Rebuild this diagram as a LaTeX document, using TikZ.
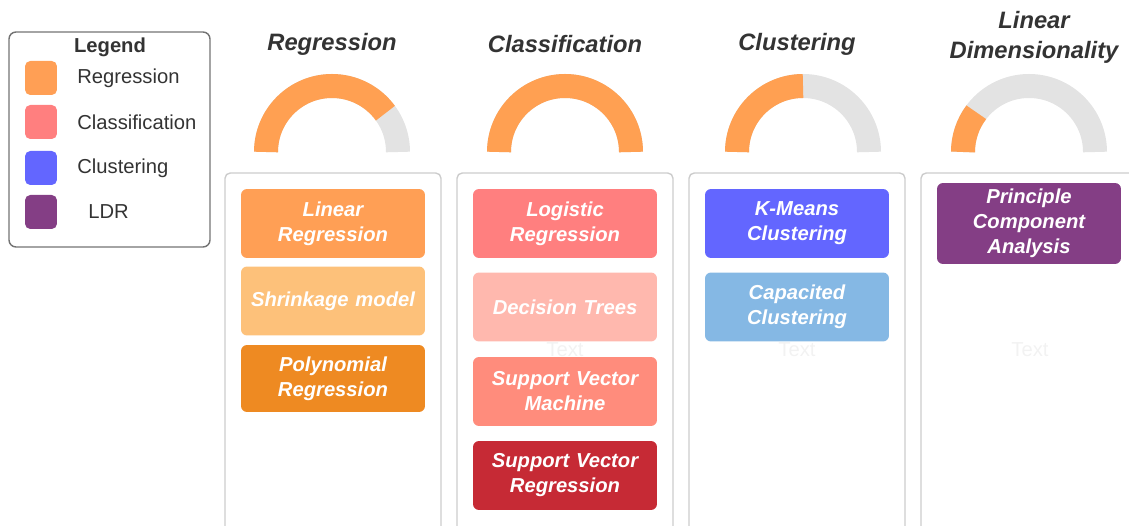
\documentclass[tikz,border=0pt]{standalone}
\usepackage{fontspec}
\setmainfont{Liberation Sans}

\definecolor{ink}{HTML}{333333}
\definecolor{gauge}{HTML}{FFA052}
\definecolor{track}{HTML}{E3E3E3}
\definecolor{lin}{HTML}{FF9F55}
\definecolor{shr}{HTML}{FDC17A}
\definecolor{pol}{HTML}{EE8A22}
\definecolor{lgr}{HTML}{FF7F7F}
\definecolor{dtr}{HTML}{FFB8AE}
\definecolor{svm}{HTML}{FF8C7C}
\definecolor{svr}{HTML}{C62A35}
\definecolor{kmc}{HTML}{6366FF}
\definecolor{cap}{HTML}{85B8E4}
\definecolor{pca}{HTML}{843E85}

\tikzset{
  every node/.style={align=center},
  box/.style={rounded corners=3.4pt, minimum width=3.68cm, minimum height=1.38cm,
    text width=3.6cm, inner sep=0pt, text=white,
    font=\fontsize{11.5}{14.2}\selectfont\bfseries\itshape},
  swatch/.style={rounded corners=3pt, minimum width=0.64cm, minimum height=0.68cm, inner sep=0pt},
  head/.style={text=ink, font=\fontsize{13.5}{17}\selectfont\bfseries\itshape},
  key/.style={anchor=west, text=ink, inner sep=0pt, font=\fontsize{11.5}{14}\selectfont},
  ghost/.style={text=black!5, font=\fontsize{11.5}{14}\selectfont},
  column/.style={draw=black!20, line width=0.8pt, rounded corners=3pt}
}

\begin{document}
\begin{tikzpicture}[x=0.02cm,y=0.02cm]
      \useasboundingbox (0,0) rectangle (1129,-526);
      \clip (0,0) rectangle (1129,-526);

      % legend
      \draw [draw=black!55, line width=0.8pt, rounded corners=4pt] (9,-32) rectangle (210,-247);
      \node [text=ink, font=\fontsize{11.5}{14}\selectfont\bfseries] (L) at (110,-47) {Legend};
      \node [swatch, fill=lin] (L1) at (41,-78) {};
      \node [swatch, fill=lgr] (L2) at (41,-122) {};
      \node [swatch, fill=kmc] (L3) at (41,-168) {};
      \node [swatch, fill=pca] (L4) at (41,-212) {};
      \node [key] (K1) at (77,-78) {Regression};
      \node [key] (K2) at (77,-122) {Classification};
      \node [key] (K3) at (77,-168) {Clustering};
      \node [key] (K4) at (88,-212) {LDR};

      % titles
      \node [head] (T1) at (332,-44) {Regression};
      \node [head] (T2) at (565,-44) {Classification};
      \node [head] (T3) at (797,-44) {Clustering};
      \node [head] (T4) at (1034,-37) {Linear\\Dimensionality};

      % gauges
      \foreach \x/\a in {332/36,565/0,803/90,1029/143} {
        \draw [track, line width=0.48cm] (\x,-152) ++(180:66) arc[start angle=180, end angle=0, radius=66];
        \draw [gauge, line width=0.48cm] (\x,-152) ++(180:66) arc[start angle=180, end angle=\a, radius=66];
      }

      % columns
      \foreach \x in {225,457,689,921}
        \draw [column] (\x,-173) rectangle ++(216,-380);

      \node [ghost] (G2) at (565,-350) {Text};
      \node [ghost] (G3) at (797,-350) {Text};
      \node [ghost] (G4) at (1030,-350) {Text};

      \node [box, fill=lin] (A) at (333,-223.5) {Linear\\Regression};
      \node [box, fill=shr] (B) at (333,-301) {Shrinkage model};
      \node [box, fill=pol, minimum height=1.34cm] (C) at (333,-378.5) {Polynomial\\Regression};

      \node [box, fill=lgr] (D) at (565,-223.5) {Logistic\\Regression};
      \node [box, fill=dtr] (E) at (565,-307) {Decision Trees};
      \node [box, fill=svm] (F) at (565,-391.5) {Support Vector\\Machine};
      \node [box, fill=svr] (G) at (565,-475.5) {Support Vector\\Regression};

      \node [box, fill=kmc] (H) at (797,-223.5) {K-Means\\Clustering};
      \node [box, fill=cap] (I) at (797,-307) {Capacited\\Clustering};

      \node [box, fill=pca, minimum height=1.62cm] (J) at (1029,-223.5) {Principle\\Component\\Analysis};
    \end{tikzpicture}
\end{document}
